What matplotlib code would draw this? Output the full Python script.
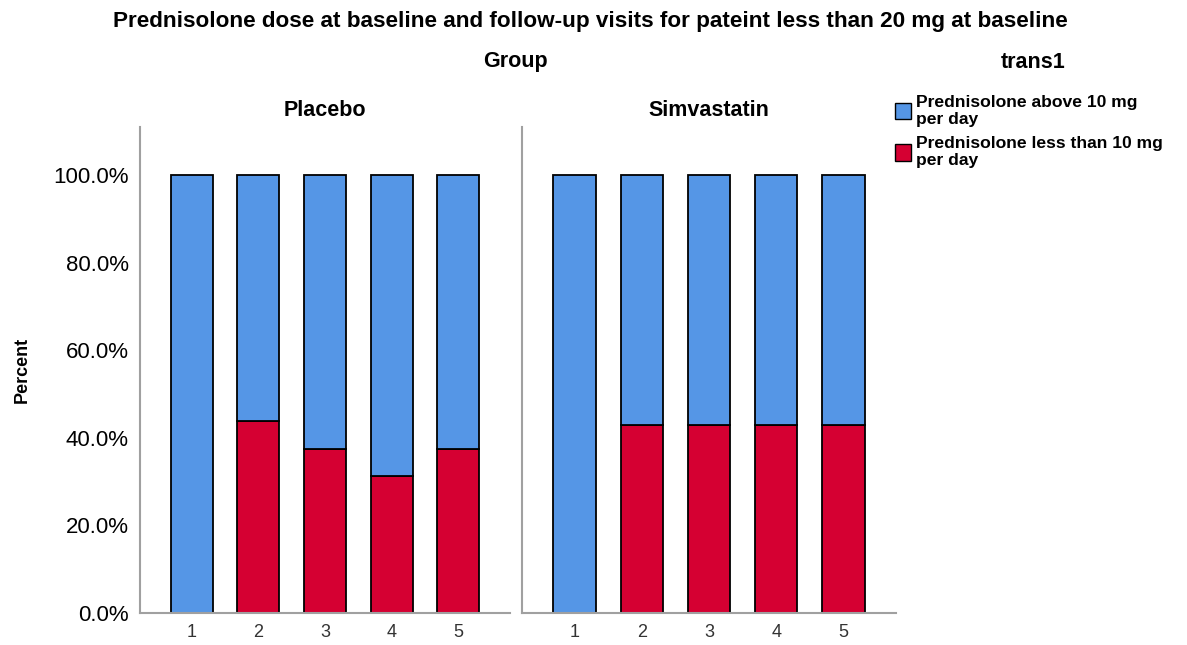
import numpy as np
import matplotlib
matplotlib.use('Agg')
import matplotlib.pyplot as plt
from matplotlib.patches import Patch
from matplotlib.ticker import FuncFormatter

plt.rcParams['font.family'] = ['Liberation Sans', 'DejaVu Sans']

visits = [1, 2, 3, 4, 5]
groups = ['Placebo', 'Simvastatin']
# percent "less than 10 mg" per visit
less10_placebo = [0.0, 43.75, 37.5, 31.25, 37.5]
less10_simva = [0.0, 42.86, 42.86, 42.86, 42.86]
less10 = [less10_placebo, less10_simva]
series = ['Prednisolone above 10 mg\nper day', 'Prednisolone less than 10 mg\nper day']

c_blue = '#5596e6'
c_red = '#d50032'

fig = plt.figure(figsize=(11.87, 6.45), dpi=100)
W, H = 1187., 645.
boxes = [(140, 510), (522, 896)]
axes = []
for i, (x0, x1) in enumerate(boxes):
    ax = fig.add_axes([x0 / W, 1 - 613 / H, (x1 - x0) / W, (613 - 127) / H])
    lo = np.array(less10[i])
    hi = 100 - lo
    ax.bar(visits, lo, width=0.63, color=c_red, edgecolor='black', linewidth=1.3)
    ax.bar(visits, hi, bottom=lo, width=0.63, color=c_blue, edgecolor='black', linewidth=1.3)
    ax.set_xlim(0.22, 5.78)
    ax.set_ylim(0, 111)
    ax.set_xticks(visits)
    ax.tick_params(axis='x', length=0, labelsize=13, labelcolor='#333333', pad=8)
    for s in ['top', 'right']:
        ax.spines[s].set_visible(False)
    ax.spines['left'].set_color('#a0a0a0')
    ax.spines['bottom'].set_color('#a0a0a0')
    ax.spines['left'].set_linewidth(1.5)
    ax.spines['bottom'].set_linewidth(1.5)
    if i == 0:
        ax.set_yticks([0, 20, 40, 60, 80, 100])
        ax.yaxis.set_major_formatter(FuncFormatter(lambda v, p: '%.1f%%' % v))
        ax.tick_params(axis='y', length=0, labelsize=16, pad=8)
        ax.set_ylabel('Percent', fontsize=13, fontweight='bold', labelpad=16)
    else:
        ax.set_yticks([])
    ax.set_title(groups[i], fontsize=15.5, fontweight='bold', pad=8)
    axes.append(ax)

fig.text(590 / W, 1 - 22 / H, 'Prednisolone dose at baseline and follow-up visits for pateint less than 20 mg at baseline',
         ha='center', va='center', fontsize=16.2, fontweight='bold')
fig.text(515 / W, 1 - 62 / H, 'Group', ha='center', va='center', fontsize=15.5, fontweight='bold')
fig.text(1033 / W, 1 - 62 / H, 'trans1', ha='center', va='center', fontsize=15.5, fontweight='bold')

handles = [Patch(facecolor=c_blue, edgecolor='black'), Patch(facecolor=c_red, edgecolor='black')]
fig.legend(handles, series, loc='upper left', bbox_to_anchor=(879 / W, 1 - 79 / H), frameon=False,
           prop={'weight': 'bold', 'size': 12.6}, handlelength=0.9, handleheight=1.1,
           handletextpad=0.3, labelspacing=0.5)

plt.savefig('out.png', dpi=100)
